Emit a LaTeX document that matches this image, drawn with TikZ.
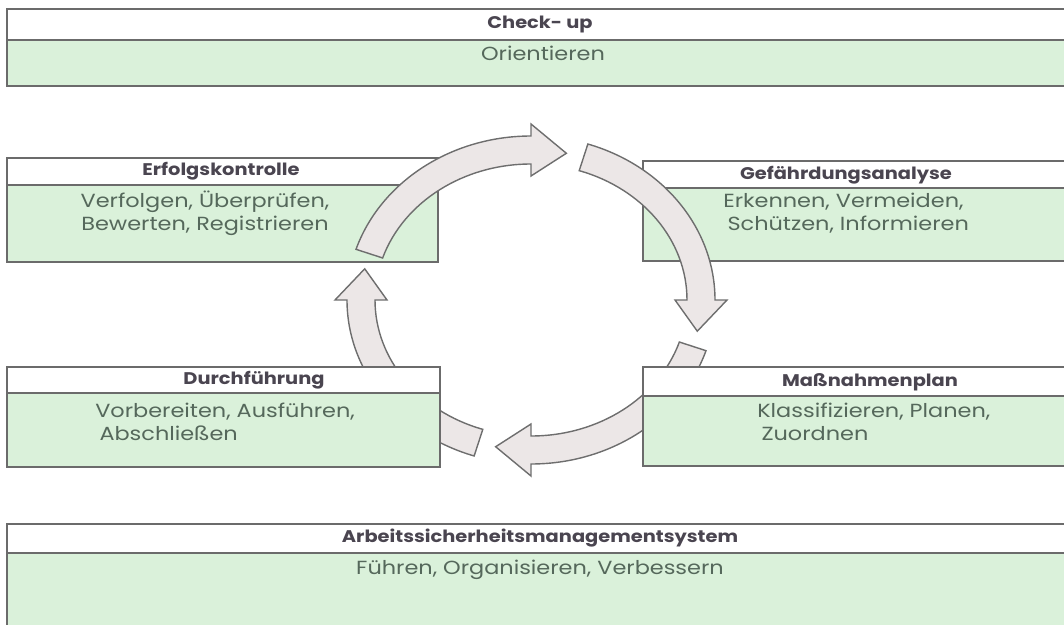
\documentclass[tikz,border=0pt]{standalone}
\usepackage{fontspec}
\setmainfont{Poppins}
\newfontfamily\wideface[FakeStretch=1.18]{Poppins}
\newfontfamily\wideheadface[FakeStretch=1.15]{Poppins}
\usetikzlibrary{positioning}
\definecolor{boxLine}{HTML}{6B6B6B}
\definecolor{boxGreen}{HTML}{DAF1DA}
\definecolor{arrowFill}{HTML}{ECE7E7}
\definecolor{arrowLine}{HTML}{6E6E6E}
\definecolor{headText}{HTML}{4A4550}
\definecolor{bodyText}{HTML}{55685B}
\tikzset{
  headbox/.style={rectangle, draw=boxLine, fill=white, line width=1.2pt,
                  inner sep=0pt, outer sep=0pt},
  bodybox/.style={rectangle, draw=boxLine, fill=boxGreen, line width=1.2pt,
                  inner sep=0pt, outer sep=0pt},
  titletext/.style={font=\wideheadface\bfseries\fontsize{12}{13}\selectfont, text=headText, inner sep=0pt},
  bodytext/.style={font=\wideface\fontsize{13.5}{16.6}\selectfont, text=bodyText, inner sep=0pt},
  cyclearr/.style={draw=arrowLine, fill=arrowFill, line width=1pt, line join=miter},
}
% block arrow on the ellipse, #1 = angle of the tail
\newcommand{\cyclearrow}[1]{%
  \draw[cyclearr] ({184*cos(#1)},{164*sin(#1)})
    arc[start angle=#1, end angle=#1+72, x radius=184, y radius=164]
    -- ({196*cos(#1+72)},{176*sin(#1+72)})
    -- ({170*cos(#1+84)},{150*sin(#1+84)})
    -- ({144*cos(#1+72)},{124*sin(#1+72)})
    -- ({156*cos(#1+72)},{136*sin(#1+72)})
    arc[start angle=#1+72, end angle=#1, x radius=156, y radius=136]
    -- cycle;}

\begin{document}
\begin{tikzpicture}[x=0.025cm, y=-0.025cm]
  \useasboundingbox (0,0) rectangle (1064,624);

  % arrows lying under the boxes
  \begin{scope}[shift={(531,300)}]
    \cyclearrow{18}
    \cyclearrow{108}
  \end{scope}

  % Check-up
  \node[headbox, anchor=north west, minimum width=26.625cm, minimum height=0.775cm] (chkHead) at (7,9) {};
  \node[bodybox, below=0pt of chkHead, minimum width=26.625cm, minimum height=1.15cm] (chkBody) {};
  \node[titletext] (chkTitle) at (540,25) {Check- up};
  \node[bodytext] (chkText) at (543,53) {Orientieren};

  % Erfolgskontrolle
  \node[headbox, anchor=north west, minimum width=10.775cm, minimum height=0.675cm] (erfHead) at (7,158) {};
  \node[bodybox, below=0pt of erfHead, minimum width=10.775cm, minimum height=1.925cm] (erfBody) {};
  \node[titletext] (erfTitle) at (221,171) {Erfolgskontrolle};
  \node[bodytext, align=center] (erfText) at (205,213) {Verfolgen, Überprüfen,\\Bewerten, Registrieren};

  % Gefaehrdungsanalyse
  \node[headbox, anchor=north west, minimum width=10.725cm, minimum height=0.675cm] (gefHead) at (643,161) {};
  \node[bodybox, below=0pt of gefHead, minimum width=10.725cm, minimum height=1.825cm] (gefBody) {};
  \node[titletext] (gefTitle) at (846,175) {Gefährdungsanalyse};
  \node[bodytext, align=left, anchor=west] (gefText) at (723,213) {Erkennen, Vermeiden,\\\hspace*{3pt}Schützen, Informieren};

  % Durchfuehrung
  \node[headbox, anchor=north west, minimum width=10.825cm, minimum height=0.65cm] (durHead) at (7,367) {};
  \node[bodybox, below=0pt of durHead, minimum width=10.825cm, minimum height=1.85cm] (durBody) {};
  \node[titletext] (durTitle) at (254,380) {Durchführung};
  \node[bodytext, align=left, anchor=west] (durText) at (95,422) {Vorbereiten, Ausführen,\\\hspace*{3pt}Abschließen};

  % Massnahmenplan
  \node[headbox, anchor=north west, minimum width=10.725cm, minimum height=0.725cm] (masHead) at (643,367) {};
  \node[bodybox, below=0pt of masHead, minimum width=10.725cm, minimum height=1.75cm] (masBody) {};
  \node[titletext] (masTitle) at (870,382) {Maßnahmenplan};
  \node[bodytext, align=left, anchor=west] (masText) at (757,422) {Klassifizieren, Planen,\\\hspace*{3pt}Zuordnen};

  % Arbeitssicherheitsmanagementsystem
  \node[headbox, anchor=north west, minimum width=26.625cm, minimum height=0.725cm] (asmHead) at (7,524) {};
  \node[bodybox, below=0pt of asmHead, minimum width=26.625cm, minimum height=2.175cm] (asmBody) {};
  \node[titletext] (asmTitle) at (540,538) {Arbeitssicherheitsmanagementsystem};
  \node[bodytext] (asmText) at (540,570) {Führen, Organisieren, Verbessern};

  % arrows lying over the boxes
  \begin{scope}[shift={(531,300)}]
    \cyclearrow{198}
    \cyclearrow{288}
  \end{scope}
\end{tikzpicture}
\end{document}
